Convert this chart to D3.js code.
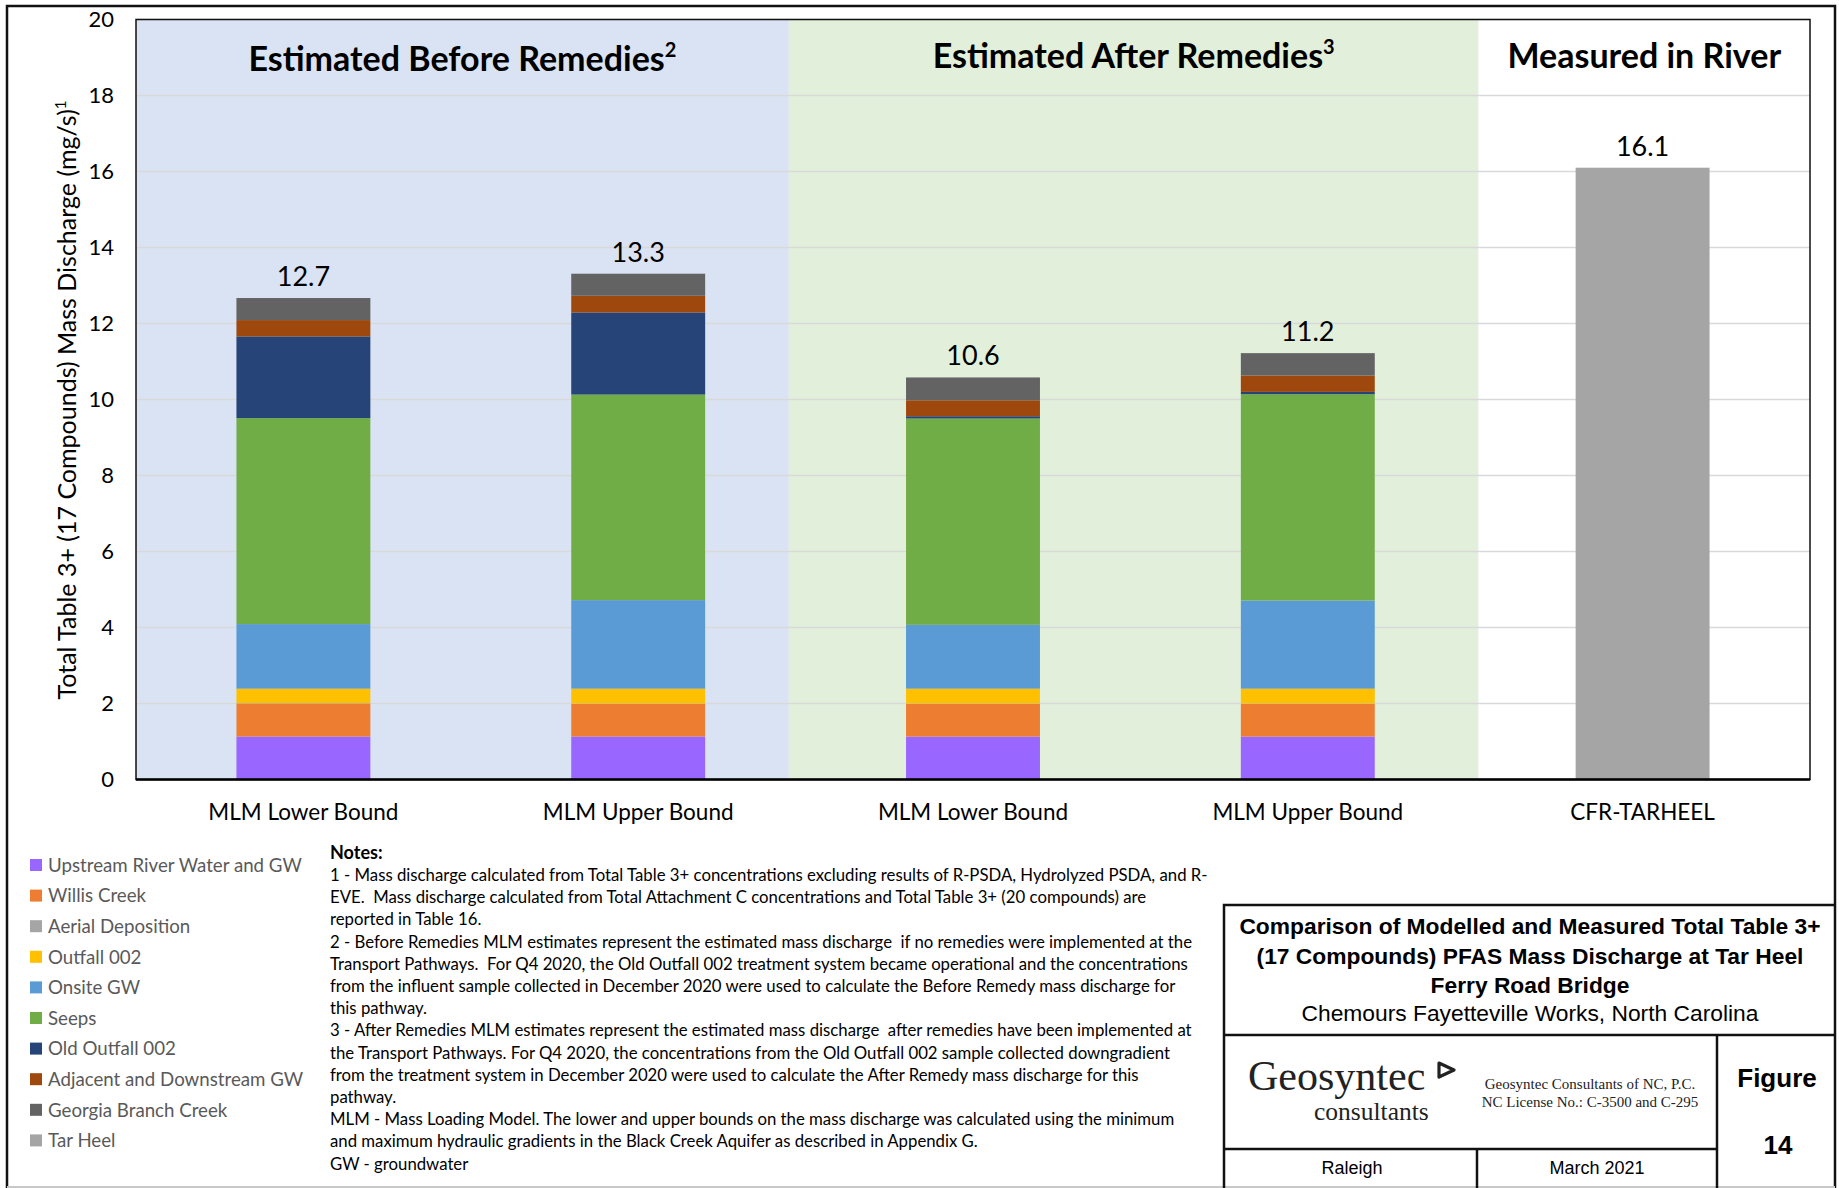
<!DOCTYPE html>
<html>
<head>
<meta charset="utf-8">
<script src="https://cdn.jsdelivr.net/npm/d3@7"></script>
<style>
  body { margin: 0; background: #fff; }
  svg { display: block; }
  text { white-space: pre; }
</style>
</head>
<body>
<svg></svg>
<script>
// categories along the x axis
const categories = ['MLM Lower Bound', 'MLM Upper Bound', 'MLM Lower Bound', 'MLM Upper Bound', 'CFR-TARHEEL']
const groupTitles = ['Estimated Before Remedies', 'Estimated After Remedies', 'Measured in River']
const groupNoteRefs = ['2', '3', '']

// stacked series, bottom to top (mg/s)
const seriesNames = [
  'Upstream River Water and GW',
  'Willis Creek',
  'Aerial Deposition',
  'Outfall 002',
  'Onsite GW',
  'Seeps',
  'Old Outfall 002',
  'Adjacent and Downstream GW',
  'Georgia Branch Creek',
  'Tar Heel',
]
const upstream = [1.13, 1.13, 1.13, 1.13, 0]
const willis = [0.87, 0.86, 0.86, 0.86, 0]
const aerial = [0.01, 0.01, 0.01, 0.01, 0]
const outfall002 = [0.38, 0.39, 0.39, 0.39, 0]
const onsiteGW = [1.70, 2.33, 1.68, 2.32, 0]
const seeps = [5.42, 5.41, 5.43, 5.43, 0]
const oldOutfall002 = [2.15, 2.16, 0.06, 0.06, 0]
const adjacentGW = [0.43, 0.44, 0.42, 0.43, 0]
const georgiaBranch = [0.58, 0.58, 0.60, 0.59, 0]
const tarHeel = [0, 0, 0, 0, 16.1]

const yTicks = [0, 2, 4, 6, 8, 10, 12, 14, 16, 18, 20]

const notes = [
  '1 - Mass discharge calculated from Total Table 3+ concentrations excluding results of R-PSDA, Hydrolyzed PSDA, and R-',
  'EVE.  Mass discharge calculated from Total Attachment C concentrations and Total Table 3+ (20 compounds) are',
  'reported in Table 16.',
  '2 - Before Remedies MLM estimates represent the estimated mass discharge  if no remedies were implemented at the',
  'Transport Pathways.  For Q4 2020, the Old Outfall 002 treatment system became operational and the concentrations',
  'from the influent sample collected in December 2020 were used to calculate the Before Remedy mass discharge for',
  'this pathway.',
  '3 - After Remedies MLM estimates represent the estimated mass discharge  after remedies have been implemented at',
  'the Transport Pathways. For Q4 2020, the concentrations from the Old Outfall 002 sample collected downgradient',
  'from the treatment system in December 2020 were used to calculate the After Remedy mass discharge for this',
  'pathway.',
  'MLM - Mass Loading Model. The lower and upper bounds on the mass discharge was calculated using the minimum',
  'and maximum hydraulic gradients in the Black Creek Aquifer as described in Appendix G.',
  'GW - groundwater',
]

const seriesValues = [upstream, willis, aerial, outfall002, onsiteGW, seeps, oldOutfall002, adjacentGW, georgiaBranch, tarHeel]
const colors = ['#9966ff', '#ed7d31', '#a5a5a5', '#ffc000', '#5b9bd5', '#70ad47', '#264478', '#9e480e', '#636363', '#a5a5a5']
const sectionFills = ['#dae3f3', '#e2efda', '#ffffff']
const sectionEdges = [0, 1.95, 4.01, 5]
const titleBaselines = [71, 67.5, 67.5]

const svgWidth = 1839
const svgHeight = 1188
const plot = { left: 136, right: 1810, top: 19.5, bottom: 779.5 }
const uiFont = 'Lato, "Open Sans", sans-serif'
const boxFont = '"Liberation Sans", Arial, sans-serif'
const serifFont = '"Liberation Serif", "Times New Roman", serif'

const svg = d3.select('svg')
  .attr('width', svgWidth)
  .attr('height', svgHeight)

const rows = categories.map((c, i) => {
  const row = { idx: i }
  seriesNames.forEach((s, k) => { row[s] = seriesValues[k][i] })
  return row
})
const stacked = d3.stack().keys(seriesNames)(rows)
const totals = rows.map(r => d3.sum(seriesNames, s => r[s]))

const x = d3.scaleBand()
  .domain(d3.range(categories.length))
  .range([plot.left, plot.right])
  .paddingInner(0.6)
  .paddingOuter(0.3)
const steps = d3.scaleLinear()
  .domain([0, categories.length])
  .range([plot.left, plot.right])
const y = d3.scaleLinear()
  .domain([0, 20])
  .range([plot.bottom, plot.top])

// page frame
svg.append('path')
  .attr('d', `M7,${svgHeight} V6 H1835 V${svgHeight}`)
  .attr('fill', 'none')
  .attr('stroke', '#111')
  .attr('stroke-width', 2.5)
svg.append('line')
  .attr('x1', 7).attr('x2', 1835)
  .attr('y1', 1187).attr('y2', 1187)
  .attr('stroke', '#c8c8c8').attr('stroke-width', 2)

// shaded sections behind the bars
svg.selectAll('rect.section')
  .data(groupTitles)
  .enter()
  .append('rect')
  .attr('class', 'section')
  .attr('x', (d, i) => steps(sectionEdges[i]))
  .attr('width', (d, i) => steps(sectionEdges[i + 1]) - steps(sectionEdges[i]))
  .attr('y', plot.top)
  .attr('height', plot.bottom - plot.top)
  .attr('fill', (d, i) => sectionFills[i])

// gridlines
svg.selectAll('line.grid')
  .data(yTicks.filter(t => t > 0))
  .enter()
  .append('line')
  .attr('x1', plot.left).attr('x2', plot.right)
  .attr('y1', d => y(d)).attr('y2', d => y(d))
  .attr('stroke', '#d9d9d9')
  .attr('stroke-width', 1.5)

// stacked bars
svg.selectAll('g.layer')
  .data(stacked)
  .enter()
  .append('g')
  .attr('fill', (d, k) => colors[k])
  .selectAll('rect')
  .data(d => d.filter(p => p[1] - p[0] > 0))
  .enter()
  .append('rect')
  .attr('x', d => x(d.data.idx))
  .attr('width', x.bandwidth())
  .attr('y', d => y(d[1]))
  .attr('height', d => y(d[0]) - y(d[1]))

// plot frame and x axis line
svg.append('rect')
  .attr('x', plot.left).attr('y', plot.top)
  .attr('width', plot.right - plot.left)
  .attr('height', plot.bottom - plot.top)
  .attr('fill', 'none')
  .attr('stroke', '#111')
  .attr('stroke-width', 1.5)
svg.append('line')
  .attr('x1', plot.left).attr('x2', plot.right)
  .attr('y1', plot.bottom).attr('y2', plot.bottom)
  .attr('stroke', '#000')
  .attr('stroke-width', 2.5)

// y tick labels
svg.selectAll('text.ytick')
  .data(yTicks)
  .enter()
  .append('text')
  .attr('x', 114)
  .attr('y', d => y(d))
  .attr('dy', '0.36em')
  .attr('text-anchor', 'end')
  .attr('font-family', uiFont)
  .attr('font-size', 22)
  .attr('fill', '#000')
  .text(d => d)

// y axis title
const yTitle = svg.append('text')
  .attr('transform', 'translate(76,400) rotate(-90)')
  .attr('text-anchor', 'middle')
  .attr('font-family', uiFont)
  .attr('font-size', 25)
  .attr('fill', '#000')
yTitle.append('tspan').text('Total Table 3+ (17 Compounds) Mass Discharge (mg/s)')
yTitle.append('tspan').attr('font-size', 15).attr('dy', -10).text('1')

// x labels
svg.selectAll('text.xlabel')
  .data(categories)
  .enter()
  .append('text')
  .attr('x', (d, i) => x(i) + x.bandwidth() / 2)
  .attr('y', 820)
  .attr('text-anchor', 'middle')
  .attr('font-family', uiFont)
  .attr('font-size', 22.5)
  .attr('fill', '#000')
  .text(d => d)

// totals above bars
svg.selectAll('text.total')
  .data(totals)
  .enter()
  .append('text')
  .attr('x', (d, i) => x(i) + x.bandwidth() / 2)
  .attr('y', d => y(d) - 12)
  .attr('text-anchor', 'middle')
  .attr('font-family', uiFont)
  .attr('font-size', 27)
  .attr('fill', '#000')
  .text(d => d3.format('.1f')(d))

// section titles
const titles = svg.selectAll('text.section-title')
  .data(groupTitles)
  .enter()
  .append('text')
  .attr('x', (d, i) => (steps(sectionEdges[i]) + steps(sectionEdges[i + 1])) / 2)
  .attr('y', (d, i) => titleBaselines[i])
  .attr('text-anchor', 'middle')
  .attr('font-family', uiFont)
  .attr('font-weight', 'bold')
  .attr('font-size', 34)
  .attr('fill', '#000')
titles.append('tspan').text(d => d)
titles.append('tspan')
  .attr('font-size', 20)
  .attr('dy', -14)
  .text((d, i) => groupNoteRefs[i])

// legend
const legend = svg.selectAll('g.legend')
  .data(seriesNames)
  .enter()
  .append('g')
  .attr('transform', (d, i) => `translate(30,${865 + i * 30.6})`)
legend.append('rect')
  .attr('x', 0).attr('y', -6)
  .attr('width', 12).attr('height', 12)
  .attr('fill', (d, i) => colors[i])
legend.append('text')
  .attr('x', 18)
  .attr('dy', '0.36em')
  .attr('font-family', uiFont)
  .attr('font-size', 18.7)
  .attr('fill', '#595959')
  .text(d => d)

// notes
svg.append('text')
  .attr('x', 330).attr('y', 859)
  .attr('font-family', uiFont)
  .attr('font-weight', 'bold')
  .attr('font-size', 18)
  .text('Notes:')
svg.selectAll('text.note')
  .data(notes)
  .enter()
  .append('text')
  .attr('x', 330)
  .attr('y', (d, i) => 881 + i * 22.2)
  .attr('font-family', uiFont)
  .attr('font-size', 16.75)
  .attr('fill', '#000')
  .text(d => d)

// title block
const box = svg.append('g')
  .attr('fill', 'none')
  .attr('stroke', '#111')
  .attr('stroke-width', 2.5)
box.append('path').attr('d', `M1224,${svgHeight} V905 H1835`)
box.append('path').attr('d', 'M1224,1035 H1835')
box.append('path').attr('d', `M1717,1035 V${svgHeight}`)
box.append('path').attr('d', 'M1224,1149 H1717')
box.append('path').attr('d', `M1477,1149 V${svgHeight}`)

const boxTitle = ['Comparison of Modelled and Measured Total Table 3+', '(17 Compounds) PFAS Mass Discharge at Tar Heel', 'Ferry Road Bridge']
svg.selectAll('text.boxtitle')
  .data(boxTitle)
  .enter()
  .append('text')
  .attr('x', 1530)
  .attr('y', (d, i) => 934 + i * 29.5)
  .attr('text-anchor', 'middle')
  .attr('font-family', boxFont)
  .attr('font-weight', 'bold')
  .attr('font-size', 22.8)
  .text(d => d)
svg.append('text')
  .attr('x', 1530).attr('y', 1021)
  .attr('text-anchor', 'middle')
  .attr('font-family', boxFont)
  .attr('font-size', 22.8)
  .text('Chemours Fayetteville Works, North Carolina')

svg.append('text')
  .attr('x', 1248).attr('y', 1090)
  .attr('font-family', serifFont)
  .attr('font-size', 42)
  .attr('fill', '#222')
  .text('Geosyntec')
svg.append('path')
  .attr('d', 'M1439,1063 L1454,1070 L1439,1077 Z')
  .attr('fill', 'none')
  .attr('stroke', '#222')
  .attr('stroke-width', 3.2)
  .attr('stroke-linejoin', 'round')
svg.append('text')
  .attr('x', 1314).attr('y', 1120)
  .attr('font-family', serifFont)
  .attr('font-size', 25.5)
  .attr('fill', '#222')
  .text('consultants')
svg.append('text')
  .attr('x', 1590).attr('y', 1089)
  .attr('text-anchor', 'middle')
  .attr('font-family', serifFont)
  .attr('font-size', 15)
  .attr('fill', '#222')
  .text('Geosyntec Consultants of NC, P.C.')
svg.append('text')
  .attr('x', 1590).attr('y', 1107)
  .attr('text-anchor', 'middle')
  .attr('font-family', serifFont)
  .attr('font-size', 15)
  .attr('fill', '#222')
  .text('NC License No.: C-3500 and C-295')

svg.append('text')
  .attr('x', 1777).attr('y', 1087)
  .attr('text-anchor', 'middle')
  .attr('font-family', boxFont)
  .attr('font-weight', 'bold')
  .attr('font-size', 26)
  .text('Figure')
svg.append('text')
  .attr('x', 1778).attr('y', 1154)
  .attr('text-anchor', 'middle')
  .attr('font-family', boxFont)
  .attr('font-weight', 'bold')
  .attr('font-size', 26)
  .text('14')
svg.append('text')
  .attr('x', 1352).attr('y', 1174)
  .attr('text-anchor', 'middle')
  .attr('font-family', boxFont)
  .attr('font-size', 18)
  .text('Raleigh')
svg.append('text')
  .attr('x', 1597).attr('y', 1174)
  .attr('text-anchor', 'middle')
  .attr('font-family', boxFont)
  .attr('font-size', 18)
  .text('March 2021')
</script>
</body>
</html>
